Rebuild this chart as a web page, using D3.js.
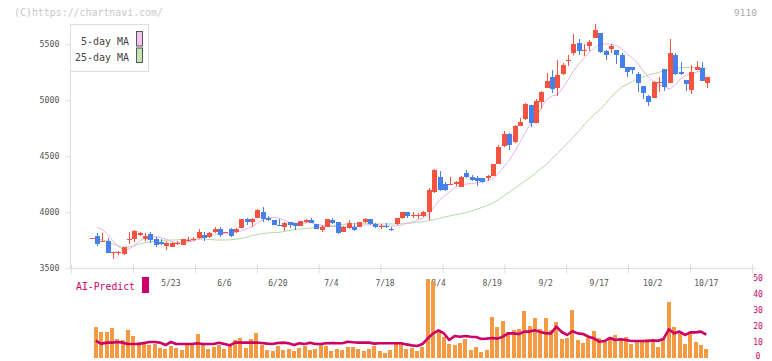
<!DOCTYPE html>
<html><head><meta charset="utf-8">
<script src="https://cdn.jsdelivr.net/npm/d3@7"></script>
<style>body{margin:0;background:#fff}svg{display:block}</style>
</head><body><svg id="c" width="772" height="361"></svg>
<script>
const openP=[3765,3786,3732,3744,3637,3638,3625,3757,3756,3792,3759,3804,3759,3735,3699,3690,3724,3708,3748,3754,3765,3795,3774,3824,3845,3815,3848,3821,3857,3938,3914,3943,4003,3949,3929,3886,3870,3908,3902,3878,3914,3929,3893,3842,3865,3929,3908,3824,3854,3870,3865,3908,3938,3896,3868,3877,3849,3890,3943,3997,3970,3965,3967,4003,4181,4315,4250,4247,4250,4226,4345,4315,4300,4303,4303,4324,4429,4589,4696,4628,4771,4828,4955,4798,4980,5110,5208,5104,5232,5348,5417,5506,5437,5485,5557,5595,5435,5458,5446,5405,5292,5292,5232,5125,5036,5021,5158,5277,5155,5402,5247,5179,5092,5271,5289,5155];
const highP=[3765,3810,3810,3765,3646,3655,3690,3818,3839,3818,3810,3818,3780,3756,3744,3735,3744,3762,3780,3774,3848,3824,3824,3863,3863,3824,3857,3857,3940,3946,3943,4024,4048,3967,3932,3938,3908,3910,3905,3922,3938,3943,3896,3884,3941,3943,3910,3872,3929,3902,3910,3943,3941,3902,3890,3899,3870,3945,4000,4003,3997,3988,4012,4217,4384,4366,4271,4315,4274,4318,4375,4330,4321,4306,4330,4432,4598,4726,4708,4775,4843,4970,4958,5006,5077,5238,5268,5357,5333,5402,5589,5545,5500,5536,5679,5598,5446,5500,5449,5417,5295,5295,5250,5128,5045,5170,5208,5280,5545,5417,5339,5182,5312,5348,5339,5208];
const lowP=[3765,3699,3730,3631,3577,3616,3616,3711,3735,3790,3741,3726,3690,3705,3661,3688,3705,3706,3735,3738,3756,3744,3765,3815,3774,3812,3780,3815,3855,3884,3863,3943,3914,3920,3880,3880,3833,3854,3842,3876,3899,3899,3845,3818,3862,3890,3804,3820,3848,3830,3862,3906,3888,3854,3845,3854,3830,3888,3940,3949,3949,3938,3958,3929,4172,4188,4188,4241,4232,4223,4300,4280,4235,4256,4280,4321,4426,4583,4553,4619,4765,4822,4762,4792,4917,5104,5059,5040,5223,5306,5402,5402,5393,5440,5551,5423,5357,5423,5321,5283,5202,5232,5072,5006,4946,5015,5075,5084,5152,5223,5223,5084,5054,5268,5167,5110];
const closeP=[3765,3711,3738,3637,3642,3643,3685,3760,3830,3810,3783,3750,3708,3717,3720,3726,3727,3759,3752,3758,3821,3765,3815,3848,3795,3820,3786,3845,3938,3914,3938,4018,3938,3929,3884,3884,3899,3884,3878,3920,3929,3902,3848,3870,3938,3902,3812,3870,3899,3842,3908,3938,3890,3862,3872,3865,3848,3943,3997,3967,3976,3970,4003,4196,4375,4196,4196,4252,4268,4315,4309,4286,4280,4271,4324,4429,4583,4696,4598,4768,4807,4964,4798,4994,5069,5170,5095,5223,5312,5354,5500,5440,5443,5518,5625,5432,5405,5482,5405,5289,5250,5268,5155,5066,4985,5161,5164,5119,5420,5235,5232,5146,5250,5295,5173,5205];
const ma5=[null,3863,3845,3801,3744,3690,3667,3667,3699,3741,3771,3780,3780,3771,3756,3735,3726,3726,3732,3741,3759,3774,3786,3801,3804,3810,3813,3821,3833,3851,3869,3899,3931,3947,3951,3946,3926,3906,3902,3899,3904,3906,3890,3882,3874,3871,3869,3869,3869,3872,3878,3885,3885,3882,3879,3875,3875,3875,3886,3902,3914,3929,3947,3985,4047,4107,4147,4183,4221,4241,4250,4254,4262,4272,4281,4299,4344,4402,4464,4536,4620,4710,4786,4839,4929,5006,5036,5045,5107,5179,5259,5321,5375,5429,5464,5500,5500,5500,5487,5460,5415,5375,5330,5259,5205,5161,5134,5116,5098,5134,5188,5223,5228,5250,5259,5214];
const ma25=[null,3770,3752,3738,3716,3695,3686,3688,3700,3714,3726,3734,3740,3744,3748,3750,3752,3754,3756,3757,3758,3759,3755,3751,3750,3750,3752,3757,3765,3774,3790,3798,3806,3814,3816,3818,3826,3836,3845,3848,3852,3858,3864,3869,3874,3879,3884,3889,3893,3895,3897,3899,3897,3895,3893,3893,3893,3893,3895,3898,3903,3909,3915,3922,3932,3944,3955,3966,3976,3986,3995,4010,4026,4042,4060,4082,4110,4145,4178,4212,4245,4280,4312,4350,4390,4425,4478,4525,4570,4620,4670,4720,4780,4830,4875,4917,4968,5025,5070,5115,5140,5165,5190,5205,5225,5235,5248,5260,5268,5280,5286,5290,5292,5290,5286,5283];
const volume=[null,19.4,16.3,16.3,18.8,11.9,11.3,17.5,13.8,10,8.8,8.1,8.8,6.3,5.6,7.5,6.3,5,8.1,8.1,15,8.1,5.6,6.9,8.1,5.6,7.5,11.3,12.5,6.3,11.9,15.6,8.1,5,4.4,7.5,5,5.6,4.4,6.3,7.5,5,5.6,9.4,7.5,4.4,5.6,5,6.9,6.9,5.6,4.4,5.6,7.5,4.4,3.1,5,8.8,8.8,5.6,6.3,4.4,6.9,49.4,48.1,16.9,13.1,8.8,8.1,9.4,11.9,5,6.9,3.8,5,25.6,19.4,23.1,16.3,17.5,18.1,29.4,20,25,18.1,25,17.5,22.5,11.9,12.5,30,11.3,9.4,12.5,16.9,12.5,10,11.9,14.4,11.9,13.1,8.8,10,10,11.9,11.3,6.9,11.9,35,19.4,16.3,8.8,15.6,10,8.1,5.6];
const aiPredict=[null,10.8,8.9,9.6,9.6,10,9.6,8.75,8.75,8.75,9.4,10,10,9.6,8.1,10,8.75,8.75,8.75,8.75,9.2,8.75,8.75,8.75,9.6,8.75,7.9,9.6,9.6,9.6,9.6,9.6,9.4,9,8.75,9.4,9.6,9.2,8.1,9.2,8.75,9.6,8.75,8.75,9.2,9.4,9.2,9.2,10.2,9.8,9.6,9.6,9.6,9,9.2,9.2,9.2,9.2,9.2,8.5,7.9,7.5,8.75,12.3,15.4,17.3,15.4,11.25,13.75,13.3,13.75,13.3,13.1,11.9,12.1,12.5,12.1,13.3,15.4,15.4,15,16.5,16.5,17.3,16.25,15.4,15.4,19.6,16.25,14.4,16.7,15.4,15,13.3,12.3,10.2,10.6,12.5,11.25,11.7,11.25,10.6,10.6,10.6,10.6,11,10.8,11.9,17.9,15.4,16.5,14.4,16,16,16.5,14.6];
const dateLabels=["5/23","6/6","6/20","7/4","7/18","8/4","8/19","9/2","9/17","10/2","10/17"];
const dateLabelIdx=[15,25,35,45,55,65,75,85,95,105,115];
const priceTicks=[3500,4000,4500,5000,5500];
const subTicks=[0,10,20,30,40,50];
const legendItems=["5-day MA","25-day MA"];

const C={up:"#f4533f",down:"#4680ea",ma5:"#e6b2ea",ma25:"#b4d9a4",vol:"#f39a42",ai:"#cc0066",axis:"#dddddd",txt:"#555"};
const mono="'DejaVu Sans Mono', 'Liberation Mono', monospace";
const svg=d3.select("#c");
svg.append("rect").attr("width",772).attr("height",361).attr("fill","#fff");

const n=closeP.length;
const x=d3.scaleLinear().domain([0,n-1]).range([91.5,707.3]);
const y=d3.scaleLinear().domain([3500,5500]).range([268,44]);
const yv=d3.scaleLinear().domain([0,50]).range([358,278]);
const grid=d3.scaleLinear().domain([0,11]).range([71,752]);

// axes
const gx=svg.append("g").attr("transform","translate(0,268.5)")
  .call(d3.axisBottom(grid).tickValues(d3.range(12)).tickSize(5).tickFormat(""));
gx.select(".domain").remove();
gx.selectAll(".tick line").attr("stroke",C.axis).attr("y1",-4).attr("y2",5);
svg.append("line").attr("x1",70).attr("x2",756).attr("y1",268.5).attr("y2",268.5).attr("stroke",C.axis);
svg.append("line").attr("x1",70.5).attr("x2",70.5).attr("y1",24).attr("y2",268).attr("stroke",C.axis);

const gy=svg.append("g").attr("transform","translate(70.5,0)")
  .call(d3.axisLeft(y).tickValues(priceTicks).tickFormat(d3.format("d")).tickSize(5).tickPadding(6));
gy.select(".domain").remove();
gy.selectAll(".tick line").attr("stroke",C.axis);
gy.selectAll(".tick text").attr("fill",C.txt).attr("font-family",mono).attr("font-size",8.3);

// moving averages
const lineGen=d3.line().defined(d=>d!=null).x((d,i)=>x(i)).y(d=>y(d));
svg.append("path").attr("d",lineGen(ma25)).attr("fill","none").attr("stroke",C.ma25).attr("stroke-width",1);
svg.append("path").attr("d",lineGen(ma5)).attr("fill","none").attr("stroke",C.ma5).attr("stroke-width",1);

// candles
const cg=svg.append("g").attr("shape-rendering","crispEdges");
d3.range(n).forEach(i=>{
  const up=closeP[i]>=openP[i];
  const col=up?C.up:C.down;
  const cx=Math.round(x(i));
  cg.append("line").attr("x1",cx+0.5).attr("x2",cx+0.5).attr("y1",y(highP[i])).attr("y2",y(lowP[i])).attr("stroke",col);
  const top=Math.min(y(openP[i]),y(closeP[i]));
  const h=Math.max(1,Math.abs(y(openP[i])-y(closeP[i])));
  cg.append("rect").attr("x",cx-2).attr("width",5).attr("y",top).attr("height",h).attr("fill",col);
});

// legend
svg.append("rect").attr("x",70.5).attr("y",24.5).attr("width",78).attr("height",47).attr("fill","#fff").attr("stroke","#dddddd");
const swf=["#f2c4f2","#c3e3b4"], lens=[48,54];
legendItems.forEach((t,k)=>{
  svg.append("text").attr("x",129).attr("y",45+k*15.5).attr("text-anchor","end")
    .attr("font-family",mono).attr("font-size",11).attr("textLength",lens[k]).attr("lengthAdjust","spacingAndGlyphs")
    .attr("fill","#444").text(t);
  svg.append("rect").attr("x",136.5).attr("y",31.5+k*16.5).attr("width",6).attr("height",14.5)
    .attr("fill",swf[k]).attr("stroke","#555");
});

// copyright and code
svg.append("text").attr("x",14).attr("y",16).attr("font-family",mono).attr("font-size",10.5)
  .attr("textLength",149).attr("lengthAdjust","spacingAndGlyphs").attr("fill","#c8c8c8").text("(C)https://chartnavi.com/");
svg.append("text").attr("x",757).attr("y",16).attr("text-anchor","end").attr("font-family",mono).attr("font-size",9.5)
  .attr("fill","#aaaaaa").text("9110");

// date labels
dateLabels.forEach((t,k)=>{
  svg.append("text").attr("x",x(dateLabelIdx[k])-1).attr("y",286).attr("text-anchor","middle")
    .attr("font-family",mono).attr("font-size",8).attr("fill",C.txt).text(t);
});

// AI-Predict title
svg.append("text").attr("x",76).attr("y",290).attr("font-family",mono).attr("font-size",11)
  .attr("textLength",59).attr("lengthAdjust","spacingAndGlyphs").attr("fill",C.ai).text("AI-Predict");
svg.append("rect").attr("x",142).attr("y",277).attr("width",7).attr("height",16).attr("fill",C.ai);

// volume bars
const vg=svg.append("g").attr("shape-rendering","crispEdges");
volume.forEach((v,i)=>{
  if(v==null) return;
  const cx=Math.round(x(i))-1;
  vg.append("rect").attr("x",cx-2).attr("width",4).attr("y",yv(v)).attr("height",yv(0)-yv(v)).attr("fill",C.vol);
});

// AI line
const aiLine=d3.line().defined(d=>d!=null).x((d,i)=>x(i)-1).y(d=>yv(d));
svg.append("path").attr("d",aiLine(aiPredict)).attr("fill","none").attr("stroke",C.ai).attr("stroke-width",2.6).attr("stroke-linejoin","round");

// right axis of lower panel
const gr=svg.append("g").attr("transform","translate(752,0)")
  .call(d3.axisRight(yv).tickValues(subTicks).tickSize(0).tickPadding(6));
gr.select(".domain").remove();
gr.selectAll(".tick text").attr("fill",C.ai).attr("font-family",mono).attr("font-size",8).attr("text-anchor","middle").attr("dx",0)
  .attr("dy",d=>d===0?"0.1em":"0.32em");
</script></body></html>
